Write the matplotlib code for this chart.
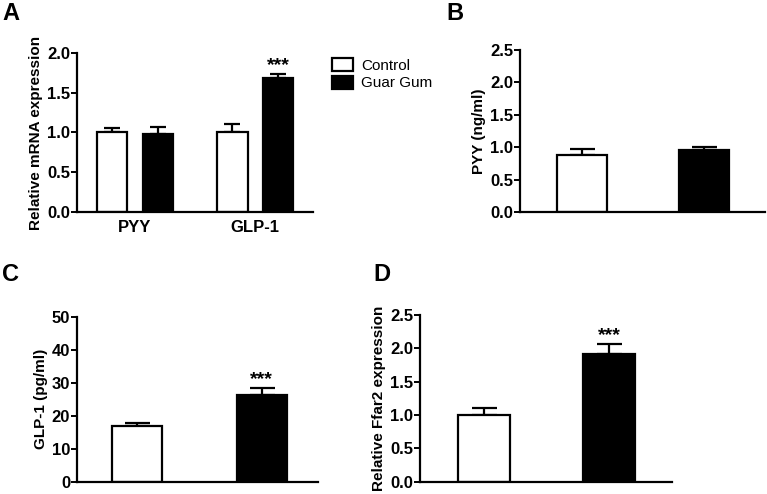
import matplotlib

matplotlib.use("Agg")
import matplotlib.pyplot as plt
from matplotlib.patches import Patch

plt.rcParams["font.family"] = ["Liberation Sans", "DejaVu Sans"]
plt.rcParams["font.weight"] = "bold"

# --- data ---
groups_a = ["PYY", "GLP-1"]
control_a = [1.00, 1.00]
control_a_err = [0.05, 0.11]
guar_a = [0.98, 1.68]
guar_a_err = [0.09, 0.06]

pyy_b = [0.875, 0.96]
pyy_b_err = [0.095, 0.04]

glp1_c = [16.9, 26.3]
glp1_c_err = [0.9, 2.0]

ffar2_d = [1.00, 1.91]
ffar2_d_err = [0.11, 0.16]

stars = "***"
face = ["white", "black"]
TICK_FS = 12
LABEL_FS = 11


def style(ax, ymax, step, fmt):
    for s in ("top", "right"):
        ax.spines[s].set_visible(False)
    for s in ("left", "bottom"):
        ax.spines[s].set_linewidth(1.6)
    ax.set_ylim(0, ymax)
    ticks = [i * step for i in range(int(round(ymax / step)) + 1)]
    ax.set_yticks(ticks)
    ax.set_yticklabels([fmt.format(t) for t in ticks], fontsize=TICK_FS, fontweight="bold")
    ax.tick_params(axis="y", length=4, width=1.4, pad=1)
    ax.tick_params(axis="x", length=0, pad=6)


def two_bars(ax, vals, errs, xlim, width):
    for i, (v, e) in enumerate(zip(vals, errs)):
        ax.bar(i, v, width=width, color=face[i], edgecolor="black", linewidth=1.6, zorder=2)
        ax.errorbar(i, v, yerr=[[0], [e]], fmt="none", ecolor="black",
                    elinewidth=1.6, capsize=9, capthick=1.6, zorder=1)
    ax.set_xlim(*xlim)
    ax.set_xticks([])


fig = plt.figure(figsize=(7.67, 4.94), dpi=100)

# A: grouped bars
ax_a = fig.add_axes([0.1004, 0.5709, 0.3077, 0.3219])
off, w = 0.189, 0.249
for i in range(len(groups_a)):
    ax_a.bar(i - off, control_a[i], width=w, color="white", edgecolor="black", linewidth=1.6, zorder=2)
    ax_a.errorbar(i - off, control_a[i], yerr=[[0], [control_a_err[i]]], fmt="none",
                  ecolor="black", elinewidth=1.6, capsize=5.5, capthick=1.6, zorder=1)
    ax_a.bar(i + off, guar_a[i], width=w, color="black", edgecolor="black", linewidth=1.6, zorder=2)
    ax_a.errorbar(i + off, guar_a[i], yerr=[[0], [guar_a_err[i]]], fmt="none",
                  ecolor="black", elinewidth=1.6, capsize=5.5, capthick=1.6, zorder=1)
ax_a.set_xlim(-0.479, 1.479)
ax_a.set_xticks(range(len(groups_a)))
ax_a.set_xticklabels(groups_a, fontsize=TICK_FS, fontweight="bold")
style(ax_a, 2.0, 0.5, "{:.1f}")
ax_a.set_ylabel("Relative mRNA expression", fontsize=LABEL_FS, fontweight="bold", labelpad=3)
ax_a.text(1 + off, guar_a[1] + guar_a_err[1] - 0.01, stars, ha="center", va="bottom", fontsize=14)

# B
ax_b = fig.add_axes([0.678, 0.5709, 0.3194, 0.328])
two_bars(ax_b, pyy_b, pyy_b_err, (-0.508, 1.5), 0.41)
style(ax_b, 2.5, 0.5, "{:.1f}")
ax_b.set_ylabel("PYY (ng/ml)", fontsize=LABEL_FS, fontweight="bold", labelpad=3)

# C
ax_c = fig.add_axes([0.1004, 0.0249, 0.314, 0.334])
two_bars(ax_c, glp1_c, glp1_c_err, (-0.48, 1.448), 0.40)
style(ax_c, 50, 10, "{:.0f}")
ax_c.set_ylabel("GLP-1 (pg/ml)", fontsize=LABEL_FS, fontweight="bold", labelpad=3)
ax_c.text(1, glp1_c[1] + glp1_c_err[1] + 0.1, stars, ha="center", va="bottom", fontsize=14)

# D
ax_d = fig.add_axes([0.5476, 0.0249, 0.3286, 0.3374])
two_bars(ax_d, ffar2_d, ffar2_d_err, (-0.512, 1.504), 0.41)
style(ax_d, 2.5, 0.5, "{:.1f}")
ax_d.set_ylabel("Relative Ffar2 expression", fontsize=LABEL_FS, fontweight="bold", labelpad=3)
ax_d.text(1, ffar2_d[1] + ffar2_d_err[1] - 0.01, stars, ha="center", va="bottom", fontsize=14)

# legend
handles = [Patch(facecolor="white", edgecolor="black", linewidth=1.6, label="Control"),
           Patch(facecolor="black", edgecolor="black", linewidth=1.6, label="Guar Gum")]
leg = fig.legend(handles=handles, loc="upper left", bbox_to_anchor=(0.415, 0.91),
                 frameon=False, handlelength=1.4, handleheight=0.9, handletextpad=0.5,
                 labelspacing=0.2, prop={"size": 11, "weight": "normal"})

# panel letters
for x, y, s in [(0.003, 0.995, "A"), (0.582, 0.995, "B"), (0.003, 0.468, "C"), (0.487, 0.468, "D")]:
    fig.text(x, y, s, fontsize=17, fontweight="bold", va="top", ha="left")

fig.savefig("out.png", dpi=100)
